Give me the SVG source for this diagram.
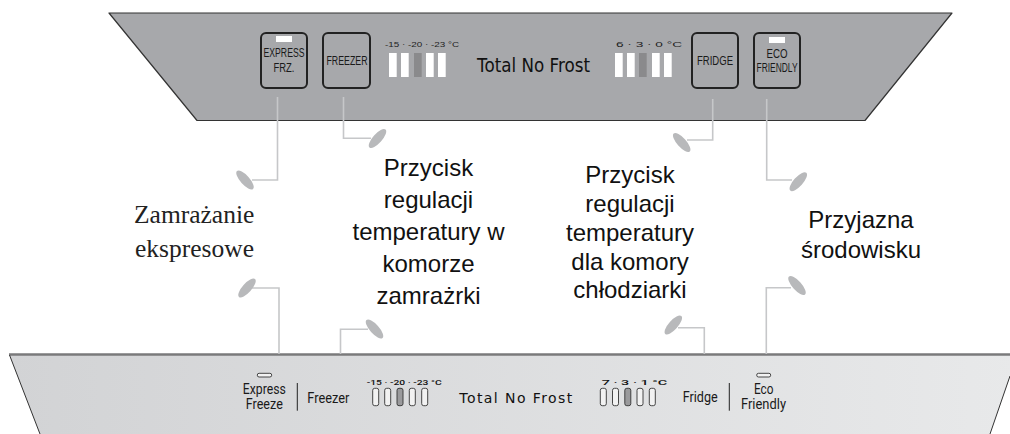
<svg xmlns="http://www.w3.org/2000/svg" width="1010" height="434" viewBox="0 0 1010 434">
<defs>
<linearGradient id="bg2" x1="0" y1="0" x2="1" y2="0">
<stop offset="0" stop-color="#d2d3d5"/>
<stop offset="1" stop-color="#e8e9ea"/>
</linearGradient>
<style>
.btn{fill:#a7a8ab;stroke:#222;stroke-width:2}
.bt{font-family:"Liberation Sans",Arial,sans-serif;font-size:12px;fill:#1a1a1a;text-anchor:middle}
.lbl{font-family:"Liberation Sans",Arial,sans-serif;font-size:8px;fill:#222}
.bl{font-family:"Roboto","Liberation Sans",sans-serif;font-size:7.5px;fill:#111;font-weight:500}
.tnf{font-family:"DejaVu Sans",sans-serif;fill:#111}
.wb{fill:#ffffff}
.db{fill:#8a8a8c}
.ob{fill:#f2f2f2;stroke:#333;stroke-width:0.9}
.obd{fill:#9a9a9c;stroke:#333;stroke-width:0.9}
.bt2{font-family:"Roboto","Liberation Sans",sans-serif;font-size:14px;fill:#1a1a1a;text-anchor:middle}
.conn{fill:none;stroke:#c6c7c9;stroke-width:1.6}
.oval{fill:#b8b9bb}
.sans{font-family:"Liberation Sans",Arial,sans-serif;font-size:24px;fill:#111;text-anchor:middle}
.serif{font-family:"Liberation Serif","Times New Roman",serif;font-size:25.5px;fill:#222}
</style>
</defs>
<rect width="1010" height="434" fill="#ffffff"/>

<g id="top-panel">
<path d="M109,13 L952,13 L865,120.5 L197,120.5 Z" fill="#a7a8ab" stroke="#333" stroke-width="1.2" stroke-linejoin="round"/>
<text class="lbl" x="385" y="47" textLength="74" lengthAdjust="spacingAndGlyphs">-15  ·  -20  ·  -23 °C</text>
<rect class="wb" x="389" y="53" width="7.7" height="24"/>
<rect class="wb" x="401" y="53" width="7.7" height="24"/>
<rect class="db" x="414" y="53" width="7.7" height="24"/>
<rect class="wb" x="426" y="53" width="7.7" height="24"/>
<rect class="wb" x="438" y="53" width="7.7" height="24"/>
<text class="tnf" x="477" y="72" font-size="19" textLength="113" lengthAdjust="spacingAndGlyphs">Total No Frost</text>
<text class="lbl" x="616" y="47" textLength="66" lengthAdjust="spacingAndGlyphs">6  ·  3  ·  0 °C</text>
<rect class="wb" x="615" y="53" width="7.7" height="24"/>
<rect class="wb" x="627" y="53" width="7.7" height="24"/>
<rect class="db" x="639" y="53" width="7.7" height="24"/>
<rect class="wb" x="652" y="53" width="7.7" height="24"/>
<rect class="wb" x="664" y="53" width="7.7" height="24"/>
</g>

<g id="btn-express">
<rect class="btn" x="261" y="33" width="46" height="55" rx="5"/>
<rect class="wb" x="276" y="36" width="16" height="6"/>
<text class="bt" x="284" y="57.3" textLength="41" lengthAdjust="spacingAndGlyphs">EXPRESS</text>
<text class="bt" x="284" y="71.7" textLength="21" lengthAdjust="spacingAndGlyphs">FRZ.</text>
</g>
<g id="btn-freezer">
<rect class="btn" x="323" y="33" width="47" height="55" rx="5"/>
<text class="bt" x="347" y="64.5" textLength="41" lengthAdjust="spacingAndGlyphs">FREEZER</text>
</g>
<g id="btn-fridge">
<rect class="btn" x="692" y="33" width="46" height="55" rx="5"/>
<text class="bt" x="715" y="64.5" textLength="36" lengthAdjust="spacingAndGlyphs">FRIDGE</text>
</g>
<g id="btn-eco">
<rect class="btn" x="754" y="33" width="46" height="55" rx="5"/>
<rect class="wb" x="769" y="37" width="16" height="6"/>
<text class="bt" x="777" y="57.5" textLength="21" lengthAdjust="spacingAndGlyphs">ECO</text>
<text class="bt" x="777" y="71.7" textLength="41" lengthAdjust="spacingAndGlyphs">FRIENDLY</text>
</g>

<g id="bottom-panel">
<path d="M9,354 L1018,354 L990,434 L40,434 Z" fill="url(#bg2)"/>
<line x1="9" y1="354.5" x2="1010" y2="354.5" stroke="#7a7a7b" stroke-width="2.5"/>
<line x1="9.5" y1="355" x2="40" y2="434" stroke="#333" stroke-width="1"/>
<line x1="1010" y1="376" x2="990" y2="434" stroke="#333" stroke-width="1"/>
<rect class="ob" x="257.3" y="373.3" width="14.4" height="3.7" rx="1.8"/>
<text class="bt2" x="264.3" y="393.5" textLength="43" lengthAdjust="spacingAndGlyphs">Express</text>
<text class="bt2" x="264.3" y="408.5" textLength="37" lengthAdjust="spacingAndGlyphs">Freeze</text>
<line x1="297.3" y1="383" x2="297.3" y2="410.7" stroke="#222" stroke-width="1"/>
<text class="bt2" x="328.3" y="402.7" textLength="42" lengthAdjust="spacingAndGlyphs">Freezer</text>
<text class="bl" x="366.7" y="385" textLength="75" lengthAdjust="spacingAndGlyphs">-15  ·  -20  ·  -23 °C</text>
<rect class="ob" x="372.7" y="388.3" width="6" height="17.4" rx="2"/>
<rect class="ob" x="384.7" y="388.3" width="6" height="17.4" rx="2"/>
<rect class="obd" x="397" y="388.3" width="6" height="17.4" rx="2"/>
<rect class="ob" x="409.3" y="388.3" width="6" height="17.4" rx="2"/>
<rect class="ob" x="421.7" y="388.3" width="6" height="17.4" rx="2"/>
<text class="tnf" x="459.3" y="403.3" font-size="14" textLength="113" lengthAdjust="spacing">Total No Frost</text>
<text class="bl" x="601.7" y="385" textLength="65.6" lengthAdjust="spacingAndGlyphs">7  ·  3  ·  1 °C</text>
<rect class="ob" x="600.3" y="388.3" width="6" height="17.4" rx="2"/>
<rect class="ob" x="612.5" y="388.3" width="6" height="17.4" rx="2"/>
<rect class="obd" x="624.8" y="388.3" width="6" height="17.4" rx="2"/>
<rect class="ob" x="637" y="388.3" width="6" height="17.4" rx="2"/>
<rect class="ob" x="649.3" y="388.3" width="6" height="17.4" rx="2"/>
<text class="bt2" x="700.2" y="401.7" textLength="35" lengthAdjust="spacingAndGlyphs">Fridge</text>
<line x1="729.3" y1="383" x2="729.3" y2="410.7" stroke="#222" stroke-width="1"/>
<rect class="ob" x="756.7" y="373.3" width="14" height="3.7" rx="1.8"/>
<text class="bt2" x="763.7" y="393.5" textLength="19.5" lengthAdjust="spacingAndGlyphs">Eco</text>
<text class="bt2" x="763.5" y="408.5" textLength="45" lengthAdjust="spacingAndGlyphs">Friendly</text>
</g>

<g id="connectors">
<path class="conn" d="M277.5,97 V180 H252"/>
<ellipse class="oval" cx="245" cy="180" rx="12" ry="4.6" transform="rotate(48 245 180)"/>
<path class="conn" d="M343.5,97 V138.3 H371"/>
<ellipse class="oval" cx="377.5" cy="138.5" rx="12" ry="4.6" transform="rotate(-48 377.5 138.5)"/>
<path class="conn" d="M252,288 H279 V354"/>
<ellipse class="oval" cx="247" cy="288" rx="12" ry="4.6" transform="rotate(-48 247 288)"/>
<path class="conn" d="M368,329.3 H340.5 V354"/>
<ellipse class="oval" cx="374.5" cy="329" rx="12" ry="4.6" transform="rotate(48 374.5 329)"/>
<path class="conn" d="M712.7,99 V140 H687"/>
<ellipse class="oval" cx="681.7" cy="142.5" rx="12" ry="4.6" transform="rotate(48 681.7 142.5)"/>
<path class="conn" d="M766.7,99 V180 H792"/>
<ellipse class="oval" cx="798.3" cy="181.7" rx="12" ry="4.6" transform="rotate(-48 798.3 181.7)"/>
<path class="conn" d="M678,327.7 H704.3 V354"/>
<ellipse class="oval" cx="673.3" cy="325" rx="12" ry="4.6" transform="rotate(-48 673.3 325)"/>
<path class="conn" d="M791,287.7 H766.3 V354"/>
<ellipse class="oval" cx="797" cy="285.5" rx="12" ry="4.6" transform="rotate(48 797 285.5)"/>
</g>

<g id="label-express">
<text class="serif" x="134" y="223">Zamrażanie</text>
<text class="serif" x="135" y="256.5">ekspresowe</text>
</g>
<g id="label-freezer">
<text class="sans" x="428.5" y="176">Przycisk</text>
<text class="sans" x="428.5" y="208">regulacji</text>
<text class="sans" x="428.5" y="240">temperatury w</text>
<text class="sans" x="428.5" y="272">komorze</text>
<text class="sans" x="428.5" y="304">zamrażrki</text>
</g>
<g id="label-fridge">
<text class="sans" x="630" y="183">Przycisk</text>
<text class="sans" x="630" y="211.7">regulacji</text>
<text class="sans" x="630" y="240.7">temperatury</text>
<text class="sans" x="630" y="270">dla komory</text>
<text class="sans" x="630" y="298">chłodziarki</text>
</g>
<g id="label-eco">
<text class="sans" x="861" y="228.3">Przyjazna</text>
<text class="sans" x="861" y="258.3">środowisku</text>
</g>
</svg>
